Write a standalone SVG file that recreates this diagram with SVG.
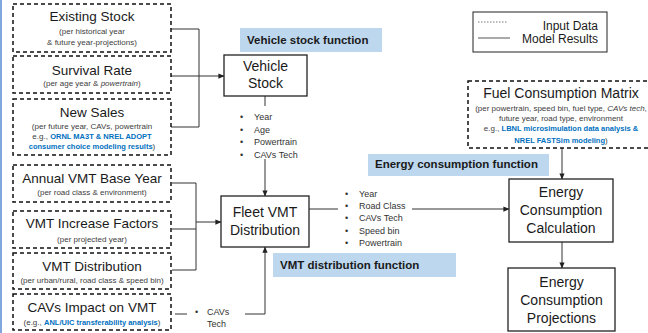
<svg xmlns="http://www.w3.org/2000/svg" width="648" height="333" viewBox="0 0 648 333">
<defs>
<marker id="arr" viewBox="0 0 8 8" refX="7.5" refY="4" markerWidth="6" markerHeight="6" orient="auto" markerUnits="userSpaceOnUse"><path d="M0,0.5 L8,4 L0,7.5 Z" fill="#222"/></marker>
<style>
text{font-family:"Liberation Sans",Arial,sans-serif}
.in{fill:#fff;stroke:#111;stroke-width:1.5;stroke-dasharray:4 3}
.res{fill:#fff;stroke:#222;stroke-width:1.3}
.ttl{font-size:13.5px;fill:#1a1a1a;text-anchor:middle}
.mt{font-size:14px;fill:#1a1a1a;text-anchor:middle}
.sub{font-size:8px;fill:#404040;text-anchor:middle}
.hl{font-weight:bold;fill:#0070c0;font-size:7.5px}
.it{font-style:italic}
.lblr{fill:#bdd7ee}
.lblt{font-size:11.5px;font-weight:bold;fill:#1a1a1a}
.bul{font-size:9px;fill:#333}
.conn{stroke:#333;stroke-width:1;fill:none}
.leg{font-size:12px;fill:#1a1a1a;text-anchor:end}
</style>
</defs>
<rect x="0" y="0" width="648" height="333" fill="#fff"/>
<rect x="0" y="0" width="2" height="333" fill="#7fa7de"/>

<g id="legend">
<rect x="473" y="12" width="134" height="40" fill="#fff" stroke="#222" stroke-width="1"/>
<path d="M478,22 H508" stroke="#555" stroke-width="0.8" stroke-dasharray="1.5 1.5"/>
<path d="M478,38 H510" stroke="#aaa" stroke-width="2"/>
<text class="leg" x="598" y="30">Input Data</text>
<text class="leg" x="598" y="43">Model Results</text>
</g>

<g id="labels">
<g id="label-vehicle-stock-function"><rect class="lblr" x="240" y="28" width="142" height="24"/><text class="lblt" x="247" y="44">Vehicle stock function</text></g>
<g id="label-energy-consumption-function"><rect class="lblr" x="368" y="154" width="181" height="22"/><text class="lblt" x="375" y="168">Energy consumption function</text></g>
<g id="label-vmt-distribution-function"><rect class="lblr" x="273" y="253" width="183" height="24"/><text class="lblt" x="280" y="269">VMT distribution function</text></g>
</g>

<g id="connectors">
<path class="conn" d="M171,29 H199 V127 H171"/>
<path class="conn" d="M171,76 H224" marker-end="url(#arr)"/>
<path class="conn" d="M265,96 V106"/>
<path class="conn" d="M265,159 V196" marker-end="url(#arr)"/>
<path class="conn" d="M172,183 H196 V270 H172"/>
<path class="conn" d="M172,229 H196" stroke="#888"/>
<path class="conn" d="M196,222 H221" marker-end="url(#arr)"/>
<path class="conn" d="M309,209 H338"/>
<path class="conn" d="M412,209 H509" marker-end="url(#arr)"/>
<path class="conn" d="M175,314 H187"/>
<path class="conn" d="M245,314 H265 V247" marker-end="url(#arr)"/>
<path class="conn" d="M562,148 V179" marker-end="url(#arr)"/>
<path class="conn" d="M562,242 V268" marker-end="url(#arr)"/>
</g>

<g id="existing-stock">
<rect class="in" x="13" y="4" width="158" height="48"/>
<text class="ttl" x="92" y="21">Existing Stock</text>
<text class="sub" x="92" y="33.5">(per historical year</text>
<text class="sub" x="92" y="45">&amp; future year-projections)</text>
</g>
<g id="survival-rate">
<rect class="in" x="13" y="56" width="158" height="37"/>
<text class="ttl" x="92" y="75">Survival Rate</text>
<text class="sub" x="92" y="86">(per age year &amp; <tspan class="it">powertrain</tspan>)</text>
</g>
<g id="new-sales">
<rect class="in" x="13" y="99" width="158" height="56"/>
<text class="ttl" x="92" y="117">New Sales</text>
<text class="sub" x="92" y="128.5">(per future year, CAVs, powertrain</text>
<text class="sub" x="92" y="138.5">e.g., <tspan class="hl">ORNL MA3T &amp; NREL ADOPT</tspan></text>
<text class="sub" x="92" y="149"><tspan class="hl">consumer choice modeling results</tspan>)</text>
</g>
<g id="annual-vmt-base-year">
<rect class="in" x="13" y="165" width="158" height="37"/>
<text class="ttl" x="92" y="183">Annual VMT Base Year</text>
<text class="sub" x="92" y="195">(per road class &amp; environment)</text>
</g>
<g id="vmt-increase-factors">
<rect class="in" x="13" y="211" width="158" height="37"/>
<text class="ttl" x="92" y="228">VMT Increase Factors</text>
<text class="sub" x="92" y="241.5">(per projected year)</text>
</g>
<g id="vmt-distribution">
<rect class="in" x="13" y="253" width="158" height="36"/>
<text class="ttl" x="92" y="271">VMT Distribution</text>
<text class="sub" x="92" y="283">(per urban/rural, road class &amp; speed bin)</text>
</g>
<g id="cavs-impact">
<rect class="in" x="13" y="294" width="158" height="36"/>
<text class="ttl" x="92" y="312">CAVs Impact on VMT</text>
<text class="sub" x="92" y="324.5">(e.g., <tspan class="hl">ANL/UIC transferability analysis</tspan>)</text>
</g>
<g id="fuel-consumption-matrix">
<rect class="in" x="468" y="81" width="186" height="67"/>
<text class="mt" x="561" y="98">Fuel Consumption Matrix</text>
<text class="sub" x="561" y="111">(per powertrain, speed bin, fuel type, <tspan class="it">CAVs tech</tspan>,</text>
<text class="sub" x="561" y="121">future year, road type, environment</text>
<text class="sub" x="561" y="131">e.g., <tspan class="hl">LBNL microsimulation data analysis &amp;</tspan></text>
<text class="sub" x="561" y="142.5"><tspan class="hl">NREL FASTSim modeling</tspan>)</text>
</g>

<g id="vehicle-stock">
<rect class="res" x="224" y="55" width="83" height="41"/>
<text class="mt" x="265.5" y="71">Vehicle</text>
<text class="mt" x="265.5" y="88">Stock</text>
</g>
<g id="vehicle-stock-attributes">
<text class="bul" x="240" y="120">•</text><text class="bul" x="254" y="120">Year</text>
<text class="bul" x="240" y="132.5">•</text><text class="bul" x="254" y="132.5">Age</text>
<text class="bul" x="240" y="145">•</text><text class="bul" x="254" y="145">Powertrain</text>
<text class="bul" x="240" y="157.5">•</text><text class="bul" x="254" y="157.5">CAVs Tech</text>
</g>
<g id="fleet-vmt-distribution">
<rect class="res" x="221" y="196" width="88" height="51"/>
<text class="mt" x="265" y="217">Fleet VMT</text>
<text class="mt" x="265" y="235">Distribution</text>
</g>
<g id="fleet-vmt-attributes">
<text class="bul" x="345" y="196.5">•</text><text class="bul" x="359" y="196.5">Year</text>
<text class="bul" x="345" y="209">•</text><text class="bul" x="359" y="209">Road Class</text>
<text class="bul" x="345" y="221">•</text><text class="bul" x="359" y="221">CAVs Tech</text>
<text class="bul" x="345" y="233.5">•</text><text class="bul" x="359" y="233.5">Speed bin</text>
<text class="bul" x="345" y="245.5">•</text><text class="bul" x="359" y="245.5">Powertrain</text>
</g>
<g id="cavs-attributes">
<text class="bul" x="195" y="314.5">•</text><text class="bul" x="207" y="314.5">CAVs</text>
<text class="bul" x="207" y="327">Tech</text>
</g>
<g id="energy-consumption-calculation">
<rect class="res" x="509" y="179" width="104" height="63"/>
<text class="mt" x="561" y="197">Energy</text>
<text class="mt" x="561" y="215">Consumption</text>
<text class="mt" x="561" y="233">Calculation</text>
</g>
<g id="energy-consumption-projections">
<rect class="res" x="508" y="268" width="107" height="63"/>
<text class="mt" x="561.5" y="287">Energy</text>
<text class="mt" x="561.5" y="305">Consumption</text>
<text class="mt" x="561.5" y="323">Projections</text>
</g>
</svg>
